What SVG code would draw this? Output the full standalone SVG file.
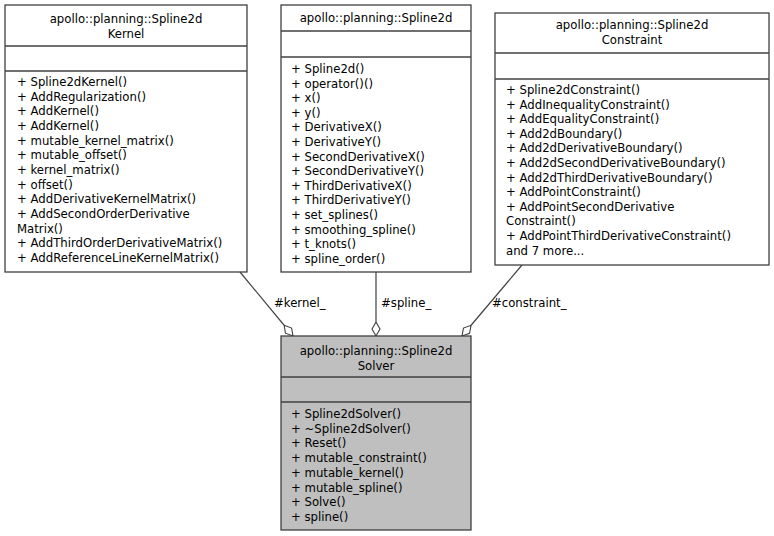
<svg xmlns="http://www.w3.org/2000/svg" width="774" height="536" viewBox="0 0 774 536">
<style>
text{font-family:"DejaVu Sans",sans-serif;font-size:11.7px;fill:#000}
.c{text-anchor:middle}
.b{fill:#fff;stroke:#404040;stroke-width:1.3}
.s{fill:#bfbfbf;stroke:#404040;stroke-width:1.3}
.l{stroke:#404040;stroke-width:1.3}
.e{stroke:#404040;stroke-width:1.2;fill:none}
</style>
<defs>
<marker id="d" markerUnits="userSpaceOnUse" markerWidth="16" markerHeight="10" refX="14" refY="5" orient="auto" viewBox="0 0 16 10">
<path d="M0,5 L7,1 L14,5 L7,9 Z" fill="#fff" stroke="#404040" stroke-width="1.1"/>
</marker>
</defs>
<rect width="774" height="536" fill="#fff"/>
<g id="edges">
<path class="e" d="M240,272 L293,336" marker-end="url(#d)"/>
<path class="e" d="M376,272 L376,336" marker-end="url(#d)"/>
<path class="e" d="M522,265 L462,336" marker-end="url(#d)"/>
<text x="274" y="307">#kernel_</text>
<text x="381" y="307">#spline_</text>
<text x="492" y="307">#constraint_</text>
</g>
<g id="kernel">
<rect class="b" x="5" y="5" width="242" height="267"/>
<line class="l" x1="5" y1="46" x2="247" y2="46"/>
<line class="l" x1="5" y1="71" x2="247" y2="71"/>
<text class="c" x="126" y="23">apollo::planning::Spline2d</text>
<text class="c" x="126" y="38">Kernel</text>
<text x="17" y="86">+ Spline2dKernel()</text>
<text x="17" y="100.7">+ AddRegularization()</text>
<text x="17" y="115.3">+ AddKernel()</text>
<text x="17" y="130">+ AddKernel()</text>
<text x="17" y="144.7">+ mutable_kernel_matrix()</text>
<text x="17" y="159.3">+ mutable_offset()</text>
<text x="17" y="174">+ kernel_matrix()</text>
<text x="17" y="188.7">+ offset()</text>
<text x="17" y="203.3">+ AddDerivativeKernelMatrix()</text>
<text x="17" y="218">+ AddSecondOrderDerivative</text>
<text x="17" y="232.7">Matrix()</text>
<text x="17" y="247.3">+ AddThirdOrderDerivativeMatrix()</text>
<text x="17" y="262">+ AddReferenceLineKernelMatrix()</text>
</g>
<g id="spline2d">
<rect class="b" x="281" y="5" width="190" height="267"/>
<line class="l" x1="281" y1="31" x2="471" y2="31"/>
<line class="l" x1="281" y1="57" x2="471" y2="57"/>
<text class="c" x="376" y="22">apollo::planning::Spline2d</text>
<text x="291" y="73">+ Spline2d()</text>
<text x="291" y="87.6">+ operator()()</text>
<text x="291" y="102.2">+ x()</text>
<text x="291" y="116.8">+ y()</text>
<text x="291" y="131.4">+ DerivativeX()</text>
<text x="291" y="146">+ DerivativeY()</text>
<text x="291" y="160.6">+ SecondDerivativeX()</text>
<text x="291" y="175.2">+ SecondDerivativeY()</text>
<text x="291" y="189.8">+ ThirdDerivativeX()</text>
<text x="291" y="204.4">+ ThirdDerivativeY()</text>
<text x="291" y="219">+ set_splines()</text>
<text x="291" y="233.6">+ smoothing_spline()</text>
<text x="291" y="248.2">+ t_knots()</text>
<text x="291" y="262.8">+ spline_order()</text>
</g>
<g id="constraint">
<rect class="b" x="495" y="13" width="274" height="252"/>
<line class="l" x1="495" y1="53" x2="769" y2="53"/>
<line class="l" x1="495" y1="79" x2="769" y2="79"/>
<text class="c" x="632" y="29">apollo::planning::Spline2d</text>
<text class="c" x="632" y="44">Constraint</text>
<text x="506" y="94">+ Spline2dConstraint()</text>
<text x="506" y="108.6">+ AddInequalityConstraint()</text>
<text x="506" y="123.2">+ AddEqualityConstraint()</text>
<text x="506" y="137.8">+ Add2dBoundary()</text>
<text x="506" y="152.4">+ Add2dDerivativeBoundary()</text>
<text x="506" y="167">+ Add2dSecondDerivativeBoundary()</text>
<text x="506" y="181.6">+ Add2dThirdDerivativeBoundary()</text>
<text x="506" y="196.2">+ AddPointConstraint()</text>
<text x="506" y="210.8">+ AddPointSecondDerivative</text>
<text x="506" y="225.4">Constraint()</text>
<text x="506" y="240">+ AddPointThirdDerivativeConstraint()</text>
<text x="506" y="254.6">and 7 more...</text>
</g>
<g id="solver">
<rect class="s" x="281" y="336" width="190" height="194"/>
<line class="l" x1="281" y1="377" x2="471" y2="377"/>
<line class="l" x1="281" y1="402" x2="471" y2="402"/>
<text class="c" x="376" y="355">apollo::planning::Spline2d</text>
<text class="c" x="376" y="370">Solver</text>
<text x="291" y="418">+ Spline2dSolver()</text>
<text x="291" y="432.7">+ ~Spline2dSolver()</text>
<text x="291" y="447.4">+ Reset()</text>
<text x="291" y="462.1">+ mutable_constraint()</text>
<text x="291" y="476.8">+ mutable_kernel()</text>
<text x="291" y="491.5">+ mutable_spline()</text>
<text x="291" y="506.2">+ Solve()</text>
<text x="291" y="520.9">+ spline()</text>
</g>
</svg>
